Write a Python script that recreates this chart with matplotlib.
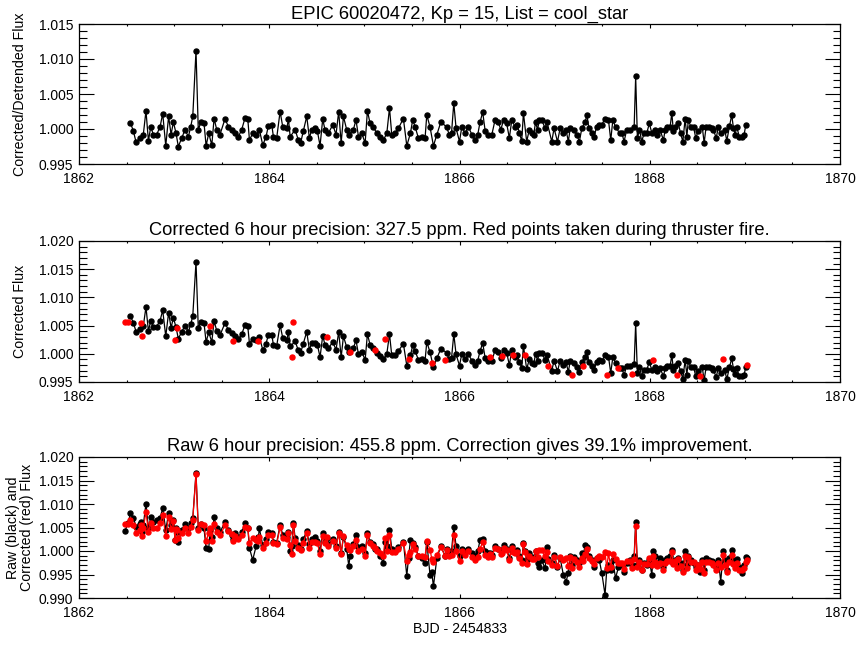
import numpy as np
import matplotlib
matplotlib.use("Agg")
import matplotlib.pyplot as plt
from matplotlib.ticker import MultipleLocator, FormatStrFormatter

plt.rcParams["font.family"] = ["Liberation Sans", "DejaVu Sans"]

# BJD - 2454833 of each cadence
time = [
    1862.484, 1862.518, 1862.540, 1862.572, 1862.600, 1862.642, 1862.648, 1862.660, 1862.676, 1862.704,
    1862.730, 1862.754, 1862.782, 1862.816, 1862.852, 1862.880, 1862.912, 1862.942, 1862.968, 1862.992,
    1863.010, 1863.020, 1863.028, 1863.044, 1863.080, 1863.114, 1863.150, 1863.174, 1863.196, 1863.230,
    1863.254, 1863.280, 1863.314, 1863.336, 1863.364, 1863.378, 1863.396, 1863.420, 1863.448, 1863.482,
    1863.536, 1863.570, 1863.606, 1863.622, 1863.640, 1863.676, 1863.710, 1863.746, 1863.774, 1863.792,
    1863.826, 1863.862, 1863.886, 1863.896, 1863.932, 1863.966, 1863.990, 1864.026, 1864.044, 1864.078,
    1864.114, 1864.142, 1864.184, 1864.202, 1864.220, 1864.236, 1864.254, 1864.272, 1864.306, 1864.330,
    1864.358, 1864.394, 1864.422, 1864.446, 1864.482, 1864.506, 1864.534, 1864.562, 1864.586, 1864.604,
    1864.622, 1864.668, 1864.702, 1864.730, 1864.756, 1864.780, 1864.814, 1864.836, 1864.850, 1864.884,
    1864.912, 1864.938, 1864.972, 1865.008, 1865.032, 1865.060, 1865.094, 1865.112, 1865.130, 1865.166,
    1865.200, 1865.218, 1865.236, 1865.264, 1865.288, 1865.322, 1865.358, 1865.410, 1865.446, 1865.464,
    1865.484, 1865.508, 1865.534, 1865.568, 1865.604, 1865.638, 1865.656, 1865.690, 1865.708, 1865.726,
    1865.762, 1865.804, 1865.848, 1865.864, 1865.892, 1865.916, 1865.940, 1865.964, 1866.000, 1866.024,
    1866.060, 1866.094, 1866.130, 1866.164, 1866.192, 1866.216, 1866.244, 1866.270, 1866.304, 1866.318,
    1866.340, 1866.374, 1866.408, 1866.434, 1866.444, 1866.464, 1866.496, 1866.524, 1866.550, 1866.566,
    1866.584, 1866.608, 1866.630, 1866.654, 1866.672, 1866.690, 1866.706, 1866.734, 1866.760, 1866.780,
    1866.800, 1866.820, 1866.840, 1866.864, 1866.900, 1866.920, 1866.934, 1866.970, 1866.994, 1867.030,
    1867.058, 1867.092, 1867.120, 1867.144, 1867.164, 1867.180, 1867.200, 1867.232, 1867.260, 1867.286,
    1867.302, 1867.320, 1867.340, 1867.360, 1867.390, 1867.414, 1867.442, 1867.470, 1867.496, 1867.530,
    1867.548, 1867.566, 1867.590, 1867.612, 1867.640, 1867.670, 1867.684, 1867.708, 1867.730, 1867.758,
    1867.794, 1867.810, 1867.836, 1867.852, 1867.870, 1867.892, 1867.916, 1867.940, 1867.968, 1867.996,
    1868.022, 1868.038, 1868.056, 1868.080, 1868.108, 1868.144, 1868.162, 1868.186, 1868.214, 1868.232,
    1868.248, 1868.264, 1868.284, 1868.300, 1868.324, 1868.348, 1868.372, 1868.390, 1868.406, 1868.432,
    1868.460, 1868.484, 1868.508, 1868.530, 1868.552, 1868.572, 1868.592, 1868.628, 1868.652, 1868.670,
    1868.698, 1868.722, 1868.746, 1868.774, 1868.788, 1868.810, 1868.838, 1868.862, 1868.880, 1868.898,
    1868.914, 1868.942, 1868.968, 1868.992, 1869.010, 1869.020,
]

# flux - 1 in units of 1e-4
# None = thruster-fire cadence (not in the detrended panel, red in the middle panel)
detrended = [
    None, None, 9, -3, -19, -13, None, None, -8, 26,
    -17, 3, -8, -8, 3, 22, -24, 18, -8, 10,
    None, -6, None, -25, -13, -1, -11, 3, 18, 112,
    -2, 10, 9, -24, -6, None, -23, 15, -1, -8,
    15, 3, -1, None, -6, -11, -1, 16, 15, -16,
    -6, -8, None, -1, -23, -11, 4, 6, -11, -13,
    25, 3, 1, 14, -11, None, None, -1, -16, -20,
    -3, 18, -13, -1, 1, -3, -24, 14, -1, None,
    -6, 6, -8, 25, -20, 18, -1, -8, None, -1,
    13, -11, -6, -20, 26, 8, 3, None, -6, -11,
    -16, None, -6, 30, -8, -6, 1, 15, -24, None,
    -6, 13, 3, -13, -11, -13, 20, 3, None, -24,
    -8, 10, None, 3, -8, -6, 37, 1, -18, 3,
    -6, 3, -8, -16, -8, 10, 24, -3, -8, None,
    -8, 13, 10, -1, None, 13, 8, -13, 13, None,
    3, 6, -6, -17, 23, None, -18, -1, -6, -8,
    10, -1, 13, 13, 1, 10, None, -18, 1, -18,
    1, -6, -1, -18, 1, None, -1, -8, -18, 1,
    None, 10, 20, 1, -6, -11, 3, 6, 6, 15,
    None, 13, -16, 13, 3, None, -6, -6, -18, -1,
    -1, None, 3, 75, -13, -1, -18, -6, -6, 8,
    -6, None, -1, -8, -1, -16, -1, 3, 3, 23,
    -3, 3, None, 8, -6, -18, 15, -11, 13, 3,
    3, -13, -3, None, 3, -20, 3, 3, 1, -1,
    -13, 3, -6, None, -1, -17, 4, 20, 1, -8,
    3, -11, -11, -8, 6, None,
]

corrected = [
    57, 57, 67, 55, 39, 44, 55, 32, 49, 83,
    40, 59, 48, 48, 59, 77, 31, 73, 46, 64,
    24, 47, 45, 27, 39, 50, 39, 52, 67, 163,
    45, 57, 55, 21, 38, 50, 21, 58, 41, 33,
    55, 42, 37, 22, 32, 26, 35, 51, 49, 18,
    27, 24, 22, 30, 7, 18, 33, 34, 16, 14,
    51, 28, 25, 38, 13, -6, 56, 22, 6, 2,
    18, 39, 7, 19, 20, 16, -6, 32, 16, 30,
    10, 21, 7, 39, -6, 31, 12, 4, 3, 10,
    24, -1, 4, -11, 35, 16, 11, 7, 1, -4,
    -10, 27, 0, 35, -3, -2, 5, 18, -21, -9,
    -3, 15, 5, -11, -10, -12, 21, 3, -16, -24,
    -8, 9, -11, 2, -10, -8, 35, -1, -21, 0,
    -9, -1, -12, -20, -12, 5, 19, -8, -13, -6,
    -13, 7, 4, -7, -4, 7, 2, -20, 6, -2,
    -5, -2, -14, -25, 14, -3, -27, -10, -16, -18,
    0, -12, 2, 2, -11, -2, -21, -30, -12, -31,
    -12, -20, -15, -32, -13, -37, -16, -23, -33, -14,
    -22, -6, 4, -15, -22, -28, -14, -11, -12, -3,
    -37, -5, -34, -6, -16, -25, -25, -26, -38, -21,
    -22, -36, -18, 54, -34, -23, -40, -28, -28, -15,
    -29, -11, -24, -31, -25, -40, -25, -21, -22, -2,
    -28, -22, -37, -17, -31, -44, -11, -37, -13, -23,
    -23, -40, -30, -39, -24, -47, -24, -24, -26, -29,
    -41, -25, -34, -9, -29, -45, -24, -8, -27, -36,
    -25, -40, -40, -37, -23, -20,
]

raw = [
    43, 60, 80, 70, 52, 58, 62, 40, 55, 101,
    48, 72, 62, 66, 70, 91, 45, 80, 55, 66,
    23, 50, 40, 20, 45, 58, 50, 60, 70, 166,
    50, 58, 48, 6, 5, 45, 30, 72, 48, 40,
    62, 45, 35, 25, 38, 30, 40, 59, 50, 6,
    -19, 10, 30, 48, 12, 25, 40, 38, 20, 18,
    55, 35, 30, 40, -1, 10, 59, 28, 12, 5,
    25, 42, 15, 25, 30, 22, 0, 38, 20, 28,
    15, 25, 10, 40, -5, 30, 5, -32, -10, 15,
    34, 8, 10, -5, 38, 20, 15, 5, 5, -10,
    -26, 20, 10, 45, 5, 0, 8, 20, -53, -15,
    23, 18, 8, -10, -15, -26, 20, -51, -45, -75,
    -15, 10, -10, 5, -5, 0, 52, 10, -10, 5,
    0, 5, -5, -10, 0, 23, 25, 0, -5, -5,
    -8, 10, 5, 2, 0, 13, 5, -15, 10, 0,
    0, 3, -10, -20, 16, 0, -20, -5, -12, -15,
    0, -25, -33, -20, -37, 9, -18, -25, -8, -33,
    -15, -51, -65, -47, -10, -30, -12, -20, -25, -5,
    -10, 13, 8, -10, -20, -33, -15, -20, -47, -93,
    -40, -30, -40, -20, -58, -35, -30, -30, -44, -25,
    -20, -30, -10, 62, -30, -20, -40, -25, -30, -20,
    -51, -1, -10, -25, -15, -35, -20, -15, -10, 2,
    -25, -20, -30, -15, -25, -40, 1, -30, -10, -20,
    -25, -35, -30, -45, -20, -40, -15, -20, -22, -25,
    -35, -20, -65, 1, -20, -40, -15, 2, -20, -30,
    -18, -35, -47, -30, -12, -15,
]

titles = [
    "EPIC 60020472, Kp = 15, List = cool_star",
    "Corrected 6 hour precision: 327.5 ppm. Red points taken during thruster fire.",
    "Raw 6 hour precision: 455.8 ppm. Correction gives 39.1% improvement.",
]
ylabels = [
    "Corrected/Detrended Flux",
    "Corrected Flux",
    "Raw (black) and\nCorrected (red) Flux",
]
ylims = [(0.995, 1.015), (0.995, 1.020), (0.990, 1.020)]

t = np.array(time)
det = np.array(detrended, dtype=float)
thr = np.isnan(det)
det = 1 + det / 1e4
cor = 1 + np.array(corrected) / 1e4
rawf = 1 + np.array(raw) / 1e4

fig = plt.figure(figsize=(8.64, 6.48), dpi=100)
# axes boxes in pixels: left 79, right 840
boxes = [(24, 164), (241, 382), (457, 598)]
axs = []
for top, bot in boxes:
    ax = fig.add_axes([79 / 864, 1 - bot / 648, 761 / 864, (bot - top) / 648])
    axs.append(ax)

ms = 3.6
axs[0].plot(t[~thr], det[~thr], "-o", color="k", lw=0.9, ms=ms)

axs[1].plot(t[~thr], cor[~thr], "-o", color="k", lw=0.9, ms=ms)
axs[1].plot(t[thr], cor[thr], "o", color="red", ms=ms, mec="red")

axs[2].plot(t, rawf, "-o", color="k", lw=0.9, ms=ms)
axs[2].plot(t, cor, "-o", color="red", lw=0.9, ms=ms, mec="red")

for i, ax in enumerate(axs):
    ax.set_xlim(1862, 1870)
    ax.set_ylim(*ylims[i])
    ax.xaxis.set_major_locator(MultipleLocator(2))
    ax.xaxis.set_minor_locator(MultipleLocator(0.5))
    ax.yaxis.set_major_locator(MultipleLocator(0.005))
    ax.yaxis.set_minor_locator(MultipleLocator(0.001))
    ax.yaxis.set_major_formatter(FormatStrFormatter("%.3f"))
    ax.tick_params(which="both", direction="in", top=True, right=True,
                   labelsize=10, width=0.8, color="k")
    ax.tick_params(axis="y", which="major", length=10.8, pad=4)
    ax.tick_params(axis="y", which="minor", length=5.4)
    ax.tick_params(axis="x", which="major", length=2.6, pad=6)
    ax.tick_params(axis="x", which="minor", length=1.5)
    for s in ax.spines.values():
        s.set_linewidth(0.9)
    ax.set_title(titles[i], fontsize=13.2, pad=4)
    ax.set_ylabel(ylabels[i], fontsize=10.2, linespacing=0.95,
                  ha="center", va="center")
    ax.yaxis.set_label_coords(-0.0775, 0.5)

axs[2].set_xlabel("BJD - 2454833", fontsize=10.2, labelpad=1)

fig.savefig("out.png", dpi=100)
